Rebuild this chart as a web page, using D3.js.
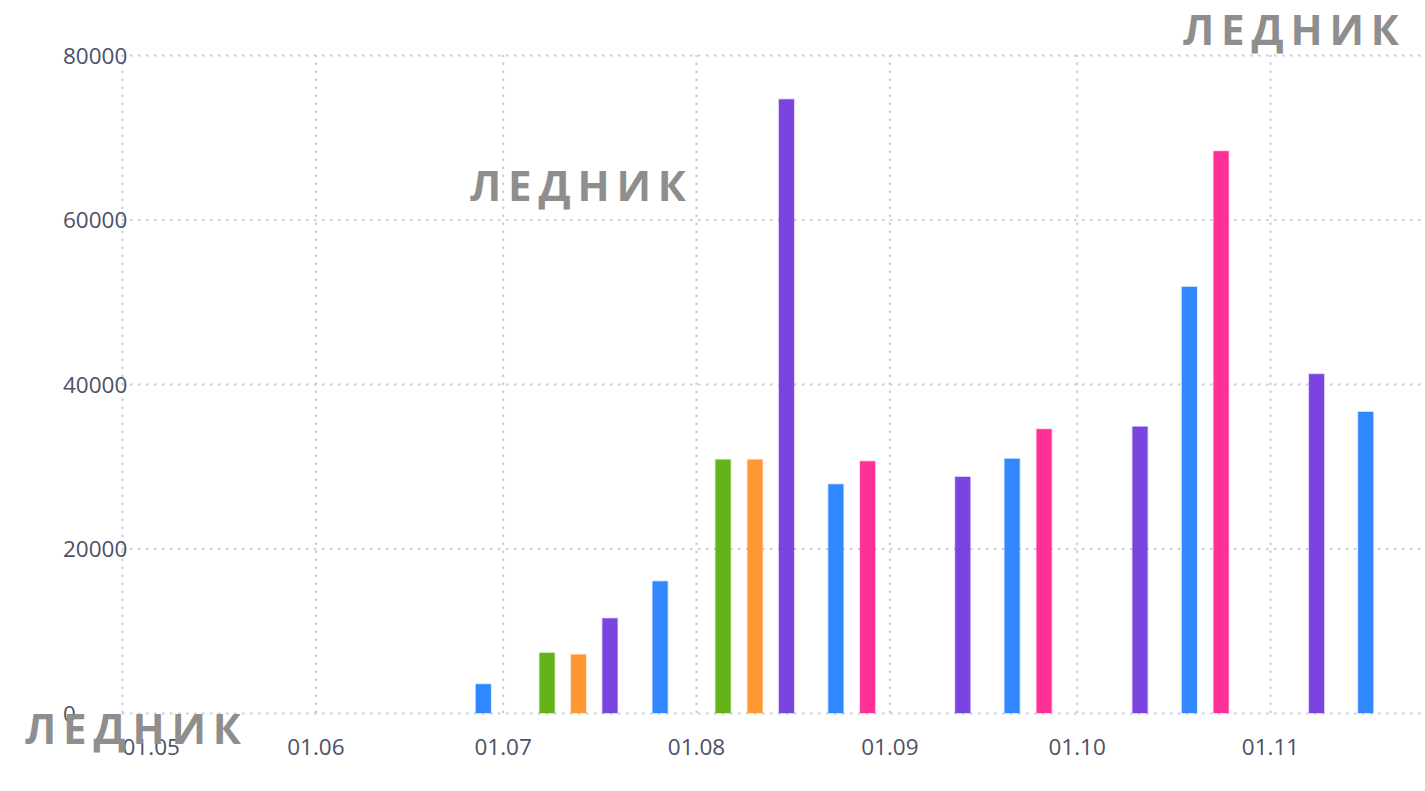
<!DOCTYPE html>
<html>
<head>
<meta charset="utf-8">
<script src="https://cdn.jsdelivr.net/npm/d3@7"></script>
<style>
  html, body { margin: 0; padding: 0; background: #ffffff; }
  svg { display: block; }
</style>
</head>
<body>
<svg id="chart" width="1425" height="791"></svg>
<script>
// ---- data ----
const dates = [
  "2023-06-27T22:00", "2023-07-08T03:00", "2023-07-13T04:00", "2023-07-18T05:00",
  "2023-07-26T06:00", "2023-08-05T08:00", "2023-08-10T11:00", "2023-08-15T12:00",
  "2023-08-23T10:00", "2023-08-28T12:00", "2023-09-12T18:00", "2023-09-20T16:00",
  "2023-09-25T19:00", "2023-10-11T04:00", "2023-10-19T02:00", "2023-10-24T04:00",
  "2023-11-08T11:00", "2023-11-16T08:00"
];
const values = [
  3500, 7300, 7100, 11500,
  16000, 30800, 30800, 74600,
  27800, 30600, 28700, 30900,
  34500, 34800, 51800, 68300,
  41200, 36600
];
const series = [
  "s1", "s2", "s3", "s4",
  "s1", "s2", "s3", "s4",
  "s1", "s5", "s4", "s1",
  "s5", "s4", "s1", "s5",
  "s4", "s1"
];
const seriesNames = ["s1", "s2", "s3", "s4", "s5"];
const seriesColors = ["#3187ff", "#63b418", "#ff9832", "#7a44e1", "#ff3097"];
const monthTicks = ["2023-05-01", "2023-06-01", "2023-07-01", "2023-08-01", "2023-09-01", "2023-10-01", "2023-11-01"];
const yTicks = [0, 20000, 40000, 60000, 80000];
const watermark = "ЛЕДНИК";

(function () {
// ---- layout ----
const mLeft = 122, mRight = 1425, mTop = 55, mBottom = 713;
const parse = d3.isoParse;
const svg = d3.select("#chart");

const x = d3.scaleTime()
  .domain([parse("2023-05-01"), parse("2023-11-01")])
  .range([mLeft, 1270]);
const y = d3.scaleLinear().domain([0, 80000]).range([mBottom, mTop]);
const color = d3.scaleOrdinal().domain(seriesNames).range(seriesColors);

const gridColor = "#cbcedc";

// horizontal gridlines
const gy = svg.append("g").attr("transform", `translate(${mLeft},0)`)
  .call(d3.axisLeft(y).tickValues(yTicks).tickSize(-(mRight - mLeft)).tickFormat(""));
gy.select(".domain").remove();
gy.selectAll("line").attr("stroke", gridColor).attr("stroke-width", 2.2).attr("stroke-dasharray", "2.5,5.5");

// vertical gridlines
const gx = svg.append("g").attr("transform", `translate(0,${mBottom})`)
  .call(d3.axisBottom(x).tickValues(monthTicks.map(parse)).tickSize(-(mBottom - mTop)).tickFormat(""));
gx.select(".domain").remove();
gx.selectAll("line").attr("stroke", gridColor).attr("stroke-width", 2.2).attr("stroke-dasharray", "2.5,5.5");

// y labels
const ya = svg.append("g").attr("transform", `translate(${mLeft},0)`)
  .call(d3.axisLeft(y).tickValues(yTicks).tickSize(0).tickFormat(d3.format("d")));
ya.select(".domain").remove();
ya.selectAll("text")
  .attr("x", 63 - mLeft).attr("dy", null).attr("y", 8)
  .attr("text-anchor", "start")
  .attr("fill", "#4b5166")
  .style("font-family", "'Open Sans', sans-serif")
  .style("font-size", "22.5px");

// x labels
const xa = svg.append("g").attr("transform", `translate(0,${mBottom})`)
  .call(d3.axisBottom(x).tickValues(monthTicks.map(parse)).tickSize(0).tickFormat(d3.timeFormat("%d.%m")));
xa.select(".domain").remove();
xa.selectAll("text")
  .attr("dy", null).attr("y", 42)
  .attr("fill", "#4b5166")
  .style("font-family", "'Open Sans', sans-serif")
  .style("font-size", "22.5px")
  .attr("text-anchor", (d, i) => i === 0 ? "start" : "middle");

// bars
const barW = 15;
const rows = dates.map((d, i) => ({ date: parse(d), value: values[i], s: series[i] }));
svg.append("g").selectAll("rect").data(rows).join("rect")
  .attr("x", d => x(d.date) - barW / 2)
  .attr("width", barW)
  .attr("y", d => y(d.value))
  .attr("height", d => y(0) - y(d.value))
  .attr("fill", d => color(d.s))
  .attr("stroke", d => color(d.s))
  .attr("stroke-opacity", 0.3)
  .attr("stroke-width", 1.5);

// watermarks
const marks = [
  { x: 1183, y: 45 },
  { x: 470, y: 201 },
  { x: 25, y: 744 }
];
svg.append("g").selectAll("text").data(marks).join("text")
  .attr("x", d => d.x).attr("y", d => d.y)
  .attr("textLength", 216)
  .attr("lengthAdjust", "spacing")
  .attr("fill", "#8e8e8e")
  .style("font-family", "'Open Sans', sans-serif")
  .style("font-weight", "bold")
  .style("font-size", "42px")
  .text(watermark);
})();
</script>
</body>
</html>
